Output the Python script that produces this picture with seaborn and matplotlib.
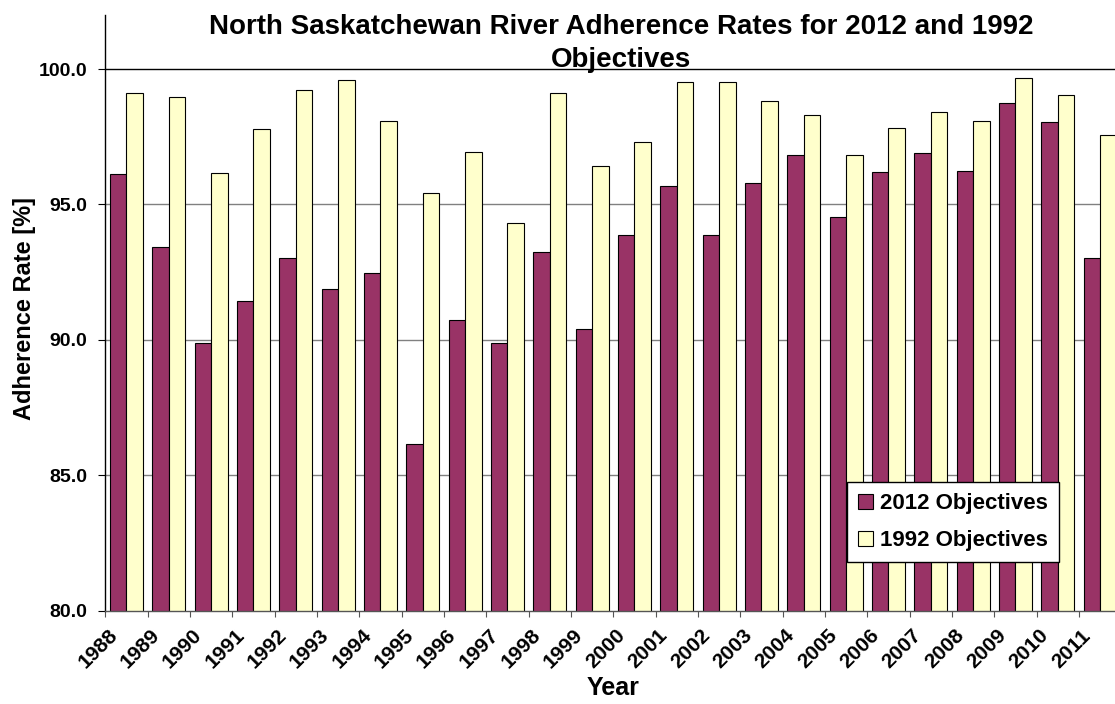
import matplotlib
matplotlib.use("Agg")
import matplotlib.pyplot as plt
import matplotlib.transforms as mtransforms
from matplotlib.ticker import FixedLocator, FormatStrFormatter
import pandas as pd
import seaborn as sns

# Adherence rates per year, one list per objective set
years = ["1988", "1989", "1990", "1991", "1992", "1993", "1994", "1995",
         "1996", "1997", "1998", "1999", "2000", "2001", "2002", "2003",
         "2004", "2005", "2006", "2007", "2008", "2009", "2010", "2011"]
rate_2012 = [96.13, 93.43, 89.89, 91.45, 93.01, 91.87, 92.47, 86.14,
             90.74, 89.89, 93.25, 90.41, 93.86, 95.70, 93.86, 95.81,
             96.81, 94.53, 96.19, 96.91, 96.23, 98.74, 98.04, 93.01]
rate_1992 = [99.10, 98.96, 96.18, 97.79, 99.22, 99.60, 98.08, 95.42,
             96.93, 94.32, 99.10, 96.41, 97.29, 99.53, 99.53, 98.83,
             98.32, 96.81, 97.83, 98.40, 98.08, 99.67, 99.06, 97.57]
series_names = ["2012 Objectives", "1992 Objectives"]
y_ticks = [80, 85, 90, 95, 100]

MAROON = "#993366"
CREAM = "#FFFFCC"

sns.set_theme(style="white")
plt.rcParams["font.family"] = ["Liberation Sans", "DejaVu Sans"]
plt.rcParams["font.weight"] = "bold"
for key in ["text.color", "axes.labelcolor", "xtick.color", "ytick.color"]:
    plt.rcParams[key] = "black"

df = pd.DataFrame({
    "Year": years * 2,
    "Rate": rate_2012 + rate_1992,
    "Objective": [series_names[0]] * len(years) + [series_names[1]] * len(years),
})

DPI = 100
fig = plt.figure(figsize=(11.15, 7.04), dpi=DPI)
W, H = 1115, 704
x0, x1 = 105.3, 1121.3
y_bot, y_top = 610.5, 15.0
ax = fig.add_axes([x0 / W, 1 - y_bot / H, (x1 - x0) / W, (y_bot - y_top) / H])

sns.barplot(data=df, x="Year", y="Rate", hue="Objective", hue_order=series_names,
            palette=[MAROON, CREAM], width=0.78, saturation=1, errorbar=None,
            edgecolor="black", linewidth=0.8, ax=ax)

ax.set_ylim(80, 102)
ax.set_xlim(-0.5, len(years) - 0.5)

# horizontal gridlines
ax.set_axisbelow(True)
for v in y_ticks[1:]:
    ax.axhline(v, color="black" if v == 100 else "#808080", lw=1.0, zorder=0)

# spines
for s in ["top", "right"]:
    ax.spines[s].set_visible(False)
ax.spines["left"].set_color("black")
ax.spines["left"].set_linewidth(1.0)
ax.spines["bottom"].set_color("#555555")
ax.spines["bottom"].set_linewidth(1.0)

# y axis
ax.yaxis.set_major_locator(FixedLocator(y_ticks))
ax.yaxis.set_major_formatter(FormatStrFormatter("%.1f"))
ax.tick_params(axis="y", which="major", direction="out", length=4.8, width=0.8,
               color="black", pad=8, labelsize=14, left=True)
ax.set_ylabel("Adherence Rate [%]", fontsize=17, fontweight="bold", va="center")
ax.yaxis.set_label_coords((25 - x0) / (x1 - x0), (y_bot - 308) / (y_bot - y_top))

# x axis: ticks at category boundaries, labels rotated under each category
ax.xaxis.set_minor_locator(FixedLocator([i - 0.5 for i in range(len(years) + 1)]))
ax.tick_params(axis="x", which="minor", direction="out", length=4.3, width=0.8,
               color="#555555", bottom=True)
ax.tick_params(axis="x", which="major", length=0, pad=27.5, labelsize=15)
ax.set_xticks(range(len(years)))
ax.set_xticklabels(years, rotation=45, ha="center", va="center",
                   rotation_mode="anchor", fontweight="bold")
shift = mtransforms.ScaledTranslation(-28.7 / DPI, 0, fig.dpi_scale_trans)
for lbl in ax.get_xticklabels():
    lbl.set_transform(lbl.get_transform() + shift)
ax.set_xlabel("Year", fontsize=18, fontweight="bold", va="center")
ax.xaxis.set_label_coords(0.5, -(688 - y_bot) / (y_bot - y_top))

# legend
handles, labels = ax.get_legend_handles_labels()
if ax.get_legend() is not None:
    ax.get_legend().remove()
leg = ax.legend(handles, labels, loc="upper left",
                bbox_to_anchor=((847 - x0) / (x1 - x0), (y_bot - 482) / (y_bot - y_top)),
                borderaxespad=0, fontsize=16, frameon=True, fancybox=False,
                framealpha=1, edgecolor="black", handlelength=0.65,
                handleheight=0.65, handletextpad=0.35, labelspacing=0.72,
                borderpad=0.5)
leg.get_frame().set_linewidth(1.0)
for t in leg.get_texts():
    t.set_fontweight("bold")

# title
fig.text(621 / W, 1 - 14 / H,
         "North Saskatchewan River Adherence Rates for 2012 and 1992\nObjectives",
         ha="center", va="top", fontsize=20, fontweight="bold", linespacing=1.33)

fig.savefig("out.png", dpi=DPI, facecolor="white")
